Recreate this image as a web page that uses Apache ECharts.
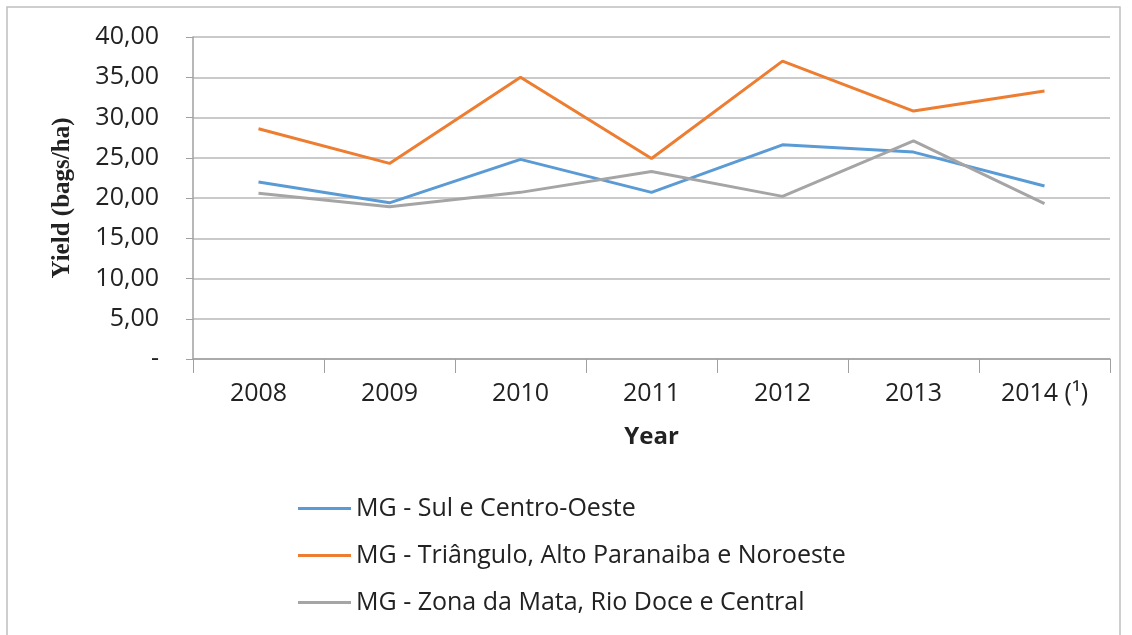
<!DOCTYPE html>
<html>
<head>
<meta charset="utf-8">
<script src="https://cdn.jsdelivr.net/npm/echarts@6/dist/echarts.min.js"></script>
<style>
html,body{margin:0;padding:0;background:#fff;}
#chart{width:1132px;height:635px;}
</style>
</head>
<body>
<div id="chart"></div>
<script>
// categories and series
const years = ['2008', '2009', '2010', '2011', '2012', '2013', '2014 (\u00b9)']
const sulCentroOeste = [22.0, 19.4, 24.8, 20.7, 26.6, 25.7, 21.5]
const trianguloAlto = [28.6, 24.3, 35.0, 24.9, 37.0, 30.8, 33.3]
const zonaDaMata = [20.6, 18.9, 20.7, 23.3, 20.2, 27.1, 19.3]
const seriesNames = [
  'MG - Sul e Centro-Oeste',
  'MG - Tri\u00e2ngulo, Alto Paranaiba e Noroeste',
  'MG - Zona da Mata, Rio Doce e Central'
]
const colors = ['#5b9bd5', '#ed7d31', '#a5a5a5']

const chart = echarts.init(document.getElementById('chart'))
const labelFont = '"Open Sans", "DejaVu Sans", sans-serif'

const makeSeries = (name, data, color) => ({
  name: name,
  type: 'line',
  data: data,
  symbol: 'none',
  lineStyle: { color: color, width: 3 },
  itemStyle: { color: color }
})

chart.setOption({
  animation: false,
  graphic: [{
    type: 'rect',
    shape: { x: 7, y: 7, width: 1113, height: 640 },
    style: { fill: 'none', stroke: '#bfbfbf', lineWidth: 1.5 }
  }],
  grid: { left: 193, right: 22, top: 37, bottom: 276 },
  legend: {
    orient: 'vertical',
    left: 293,
    top: 491,
    icon: 'rect',
    itemWidth: 53,
    itemHeight: 3,
    itemGap: 22,
    textStyle: { fontFamily: labelFont, fontSize: 25, color: '#222' },
    data: seriesNames
  },
  xAxis: {
    type: 'category',
    data: years,
    name: 'Year',
    nameLocation: 'middle',
    nameGap: 66,
    nameTextStyle: { fontFamily: labelFont, fontSize: 24, fontWeight: 'bold', color: '#222' },
    axisLine: { lineStyle: { color: '#a0a0a0', width: 1.5 } },
    axisTick: { show: true, length: 14, lineStyle: { color: '#a0a0a0' } },
    axisLabel: { fontFamily: labelFont, fontSize: 25, color: '#222', margin: 22 }
  },
  yAxis: {
    type: 'value',
    min: 0,
    max: 40,
    interval: 5,
    name: 'Yield (bags/ha)',
    nameLocation: 'middle',
    nameGap: 118,
    nameRotate: 90,
    nameTextStyle: { fontFamily: '"Liberation Serif", serif', fontSize: 25, fontWeight: 'bold', color: '#222' },
    axisLine: { show: true, lineStyle: { color: '#a0a0a0', width: 1.5 } },
    axisTick: { show: true, length: 7, lineStyle: { color: '#a0a0a0' } },
    splitLine: { lineStyle: { color: '#cacaca', width: 2 } },
    axisLabel: {
      fontFamily: labelFont,
      fontSize: 25,
      color: '#222',
      margin: 34,
      formatter: v => v === 0 ? '-' : v.toFixed(2).replace('.', ',')
    }
  },
  series: [
    makeSeries(seriesNames[0], sulCentroOeste, colors[0]),
    makeSeries(seriesNames[1], trianguloAlto, colors[1]),
    makeSeries(seriesNames[2], zonaDaMata, colors[2])
  ]
})
</script>
</body>
</html>
